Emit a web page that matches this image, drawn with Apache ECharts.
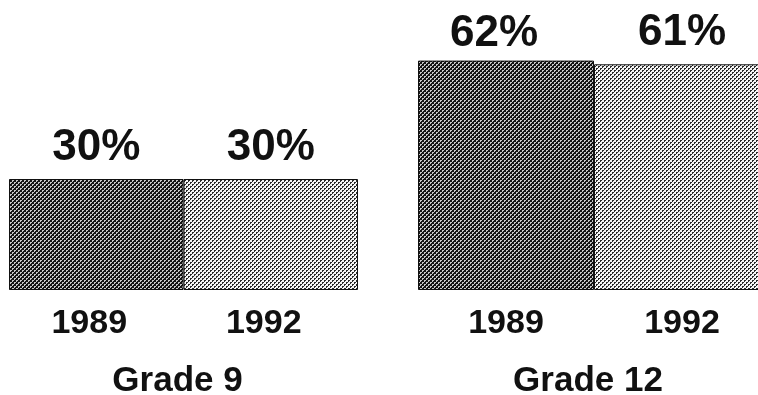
<!DOCTYPE html>
<html>
<head>
<meta charset="utf-8">
<script src="https://cdn.jsdelivr.net/npm/echarts@6/dist/echarts.min.js"></script>
<style>
  html, body { margin: 0; padding: 0; background: #fff; }
  #chart { width: 758px; height: 395px; }
</style>
</head>
<body>
<div id="chart"></div>
<script>
  // data
  const years = ['1989', '1992']
  const grades = ['Grade 9', 'Grade 12']
  const grade9 = [30, 30]
  const grade12 = [62, 61]

  // stippled fills, like the halftone screen in the print
  function makeDots(bg, fg) {
    const c = document.createElement('canvas')
    c.width = 4
    c.height = 4
    const ctx = c.getContext('2d')
    ctx.fillStyle = bg
    ctx.fillRect(0, 0, 4, 4)
    ctx.fillStyle = fg
    ctx.fillRect(0, 0, 2, 1)
    ctx.fillRect(0, 1, 1, 1)
    ctx.fillRect(2, 2, 2, 1)
    ctx.fillRect(2, 3, 1, 1)
    return { image: c, repeat: 'repeat' }
  }
  const fills = [makeDots('#141414', '#c8c8c8'), makeDots('#f6f6f6', '#2a2a2a')]

  const font = 'Liberation Sans, Arial, sans-serif'
  const chart = echarts.init(document.getElementById('chart'))

  function gridAxis(idx) {
    return {
      type: 'category',
      gridIndex: idx,
      data: years,
      axisLine: { show: false },
      axisTick: { show: false },
      axisLabel: {
        color: '#111', fontSize: 34, fontWeight: 'bold', fontFamily: font, margin: 17,
        padding: idx === 0 ? [0, 14, 0, 0] : 0
      },
      name: grades[idx],
      nameLocation: 'middle',
      nameGap: 74,
      nameTextStyle: { color: '#111', fontSize: 35, fontWeight: 'bold', fontFamily: font, padding: [0, 12, 0, 0] }
    }
  }
  function valAxis(idx) {
    return { type: 'value', gridIndex: idx, min: 0, max: 70, show: false }
  }
  function barSeries(idx, values) {
    return {
      type: 'bar',
      xAxisIndex: idx,
      yAxisIndex: idx,
      barWidth: '100%',
      barCategoryGap: 0,
      data: values.map((v, i) => ({
        value: v,
        itemStyle: { color: fills[i] },
        // the 62% label sits a little left of its bar in the print
        label: idx === 1 && i === 0 ? { offset: [-12, 4] } : {}
      })),
      itemStyle: { borderColor: '#111', borderWidth: 1 },
      label: {
        show: true,
        position: 'top',
        distance: 9,
        formatter: '{c}%',
        color: '#111',
        fontSize: 44,
        fontWeight: 'bold',
        fontFamily: font
      },
      silent: true
    }
  }

  const option = {
    animation: false,
    grid: [
      { left: 9, top: 31, width: 349, height: 259, outerBoundsMode: 'none', containLabel: false },
      { left: 418, top: 31, width: 352, height: 259, outerBoundsMode: 'none', containLabel: false }
    ],
    xAxis: [gridAxis(0), gridAxis(1)],
    yAxis: [valAxis(0), valAxis(1)],
    series: [barSeries(0, grade9), barSeries(1, grade12)]
  }
  chart.setOption(option)
</script>
</body>
</html>
